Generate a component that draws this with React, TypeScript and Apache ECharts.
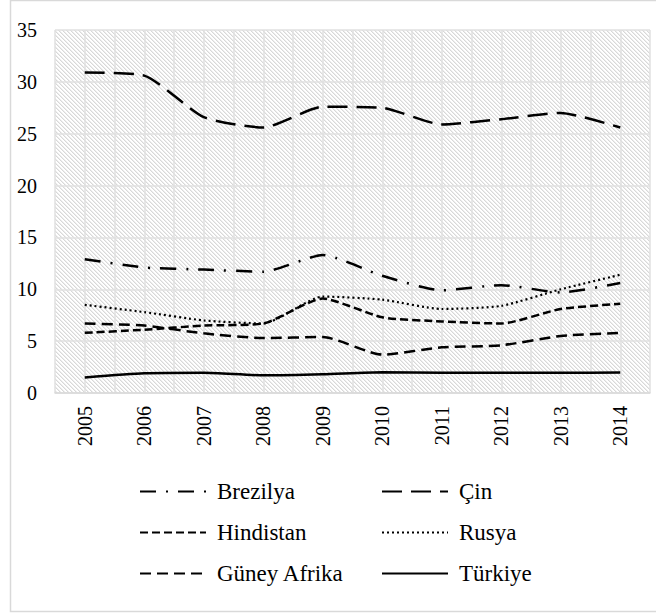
import React, { useEffect, useRef } from "react";
import * as echarts from "echarts";

const years = ["2005", "2006", "2007", "2008", "2009", "2010", "2011", "2012", "2013", "2014"];
const brezilya = [12.9, 12.1, 11.9, 11.7, 13.3, 11.3, 9.9, 10.4, 9.7, 10.6];
const cin = [30.9, 30.6, 26.6, 25.6, 27.6, 27.5, 25.9, 26.4, 27.0, 25.6];
const hindistan = [5.8, 6.1, 6.5, 6.7, 9.1, 7.3, 6.9, 6.7, 8.1, 8.6];
const rusya = [8.5, 7.8, 7.0, 6.7, 9.3, 9.0, 8.1, 8.4, 10.0, 11.4];
const guneyAfrika = [6.7, 6.5, 5.75, 5.3, 5.4, 3.7, 4.4, 4.6, 5.5, 5.8];
const turkiye = [1.5, 1.9, 1.95, 1.7, 1.8, 2.0, 1.95, 1.95, 1.95, 1.98];

const FONT = "Liberation Serif";

function makeHatch(): string {
  const c = document.createElement("canvas");
  c.width = 8;
  c.height = 8;
  const ctx = c.getContext("2d")!;
  ctx.fillStyle = "#ffffff";
  ctx.fillRect(0, 0, 8, 8);
  for (let y = 0; y < 8; y++) {
    for (let x = 0; x < 8; x++) {
      const m = (((x - y) % 4) + 4) % 4;
      if (m === 0) {
        ctx.fillStyle = "#d8d8d8";
        ctx.fillRect(x, y, 1, 1);
      } else if (m === 1) {
        ctx.fillStyle = "#ededed";
        ctx.fillRect(x, y, 1, 1);
      }
    }
  }
  return c.toDataURL();
}

export default function App() {
  const ref = useRef<HTMLDivElement>(null);
  useEffect(() => {
    if (!ref.current) return;
    const chart = echarts.init(ref.current, null, { renderer: "svg" });
    const hatch = makeHatch();
    const gl = { left: 55, top: 30, width: 595, height: 363 };
    const mk = (name: string, data: number[], type: any, width: number) => ({
      name,
      type: "line",
      data,
      smooth: 0.2,
      symbol: "none",
      showSymbol: false,
      xAxisIndex: 0,
      yAxisIndex: 0,
      lineStyle: { color: "#000", width, type },
      itemStyle: { color: "#000" },
      z: 5,
    });
    const legendCommon = {
      orient: "vertical",
      top: 480,
      padding: 0,
      itemWidth: 66,
      itemHeight: 14,
      itemGap: 18,
      itemStyle: { color: "rgba(0,0,0,0)", borderColor: "rgba(0,0,0,0)", borderWidth: 0, opacity: 0 },
      textStyle: { fontSize: 23, fontFamily: FONT, color: "#000", padding: [0, 0, 0, 6] },
    };
    chart.setOption({
      animation: false,
      backgroundColor: "#fff",
      textStyle: { fontFamily: FONT, color: "#000" },
      graphic: [
        {
          type: "rect",
          z: -1,
          shape: { x: 10.5, y: 0.5, width: 660, height: 611 },
          style: { fill: "none", stroke: "#d9d9d9", lineWidth: 1.5 },
        },
        {
          type: "rect",
          z: -1,
          shape: { x: gl.left, y: gl.top, width: gl.width, height: gl.height },
          style: {
            fill: { image: hatch, repeat: "repeat", imageWidth: 8, imageHeight: 8 } as any,
          },
        },
      ],
      grid: { ...gl, containLabel: false },
      xAxis: [
        {
          type: "category",
          data: years,
          boundaryGap: true,
          axisLine: { show: true, lineStyle: { color: "#d9d9d9", width: 1.5 } },
          axisTick: { show: false },
          splitLine: { show: false },
          axisLabel: {
            rotate: 90,
            fontSize: 20,
            fontFamily: FONT,
            color: "#000",
            margin: 13,
          },
        },
        {
          type: "value",
          min: 0,
          max: 20,
          interval: 1,
          position: "bottom",
          axisLine: { show: false },
          axisTick: { show: false },
          axisLabel: { show: false },
          splitLine: { show: true, lineStyle: { color: "#e0e0e0", width: 1.5 } },
        },
      ],
      yAxis: {
        type: "value",
        min: 0,
        max: 35,
        interval: 5,
        axisLine: { show: false },
        axisTick: { show: false },
        splitLine: { show: true, lineStyle: { color: "#e0e0e0", width: 1.5 } },
        axisLabel: { fontSize: 20, fontFamily: FONT, color: "#000", margin: 18 },
      },
      legend: [
        { ...legendCommon, left: 139, data: ["Brezilya", "Hindistan", "Güney Afrika"] },
        { ...legendCommon, left: 381, data: ["Çin", "Rusya", "Türkiye"] },
      ],
      series: [
        mk("Brezilya", brezilya, [16, 10, 2, 10], 2.5),
        mk("Çin", cin, [20, 9], 2.5),
        mk("Hindistan", hindistan, [8, 4], 2.5),
        mk("Rusya", rusya, [2, 3], 2.2),
        mk("Güney Afrika", guneyAfrika, [11, 6], 2.5),
        mk("Türkiye", turkiye, "solid", 2.5),
      ],
    });
    return () => chart.dispose();
  }, []);
  return (
    <div
      ref={ref}
      style={{ position: "absolute", left: 0, top: 0, width: 656, height: 614 }}
    />
  );
}
